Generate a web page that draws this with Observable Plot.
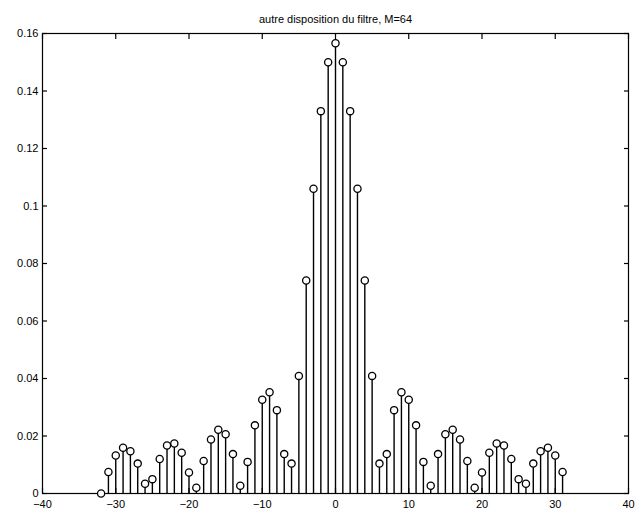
<!DOCTYPE html>
<html><head><meta charset="utf-8">
<script src="https://cdn.jsdelivr.net/npm/d3@7"></script>
<script src="https://cdn.jsdelivr.net/npm/@observablehq/plot@0.6"></script>
<style>body{margin:0;background:#fff}</style>
</head><body><div id="chart"></div>
<script>
const titleText = "autre disposition du filtre, M=64";
const n = [-32,-31,-30,-29,-28,-27,-26,-25,-24,-23,-22,-21,-20,-19,-18,-17,-16,-15,-14,-13,-12,-11,-10,-9,-8,-7,-6,-5,-4,-3,-2,-1,
           0,1,2,3,4,5,6,7,8,9,10,11,12,13,14,15,16,17,18,19,20,21,22,23,24,25,26,27,28,29,30,31];
const h = [0,0.0075,0.0132,0.0159,0.0147,0.0104,0.0034,0.0050,0.0120,0.0167,0.0174,0.0142,0.0073,0.0020,0.0113,0.0188,
           0.0222,0.0206,0.0137,0.0027,0.0110,0.0237,0.0326,0.0352,0.0290,0.0137,0.0104,0.0409,0.0741,0.1060,0.1330,0.1500,
           0.1566,0.1500,0.1330,0.1060,0.0741,0.0409,0.0104,0.0137,0.0290,0.0352,0.0326,0.0237,0.0110,0.0027,0.0137,0.0206,
           0.0222,0.0188,0.0113,0.0020,0.0073,0.0142,0.0174,0.0167,0.0120,0.0050,0.0034,0.0104,0.0147,0.0159,0.0132,0.0075];
const xTicks = [-40,-30,-20,-10,0,10,20,30,40];
const yTicks = [0,0.02,0.04,0.06,0.08,0.1,0.12,0.14,0.16];

const data = n.map((v, i) => ({n: v, h: h[i]}));

const chart = Plot.plot({
  width: 644, height: 513,
  marginLeft: 42, marginRight: 16, marginTop: 33, marginBottom: 20,
  style: {fontFamily: "'Liberation Sans', Arial, sans-serif", fontSize: "11px", color: "black", background: "white"},
  x: {domain: [-40, 40], ticks: xTicks},
  y: {domain: [0, 0.16], ticks: yTicks},
  marks: [
    Plot.frame({stroke: "black", strokeWidth: 1.2}),
    Plot.axisX(xTicks, {anchor: "bottom", tickSize: -5, tickPadding: 12, label: null, strokeWidth: 1.2}),
    Plot.axisX(xTicks, {anchor: "top", tickSize: -5, tickFormat: () => "", label: null, strokeWidth: 1.2}),
    Plot.axisY(yTicks, {anchor: "left", tickSize: -5, tickPadding: 9, label: null, tickFormat: d => String(d), strokeWidth: 1.2}),
    Plot.axisY(yTicks, {anchor: "right", tickSize: -5, tickFormat: () => "", label: null, strokeWidth: 1.2}),
    Plot.ruleX(data, {x: "n", y1: 0, y2: "h", stroke: "black", strokeWidth: 1.4}),
    Plot.dot(data, {x: "n", y: "h", r: 3.6, stroke: "black", strokeWidth: 1.3, fill: "white"}),
    Plot.text([titleText], {frameAnchor: "top", dy: -18, fontSize: 11, fill: "black"})
  ]
});
document.getElementById("chart").appendChild(chart);
</script>
</body></html>
